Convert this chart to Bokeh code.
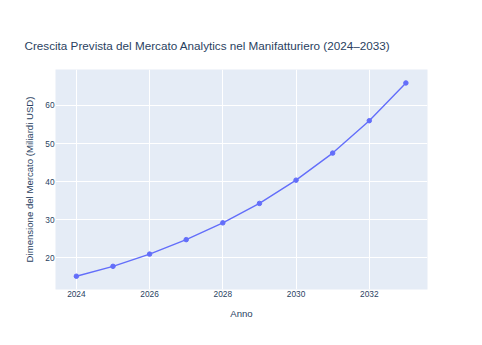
from bokeh.plotting import figure
from bokeh.models import FixedTicker, ColumnDataSource, Range1d
from bokeh.embed import file_html
from bokeh.resources import INLINE

anni = [2024, 2025, 2026, 2027, 2028, 2029, 2030, 2031, 2032, 2033]
valori = [15.2, 17.8, 21.0, 24.8, 29.2, 34.3, 40.4, 47.5, 56.0, 65.9]
x_ticks = [2024, 2026, 2028, 2030, 2032]
y_ticks = [20, 30, 40, 50, 60]
titolo = "Crescita Prevista del Mercato Analytics nel Manifatturiero (2024\u20132033)"

FONT = "Liberation Sans"
TXT = "#2a3f5f"

src = ColumnDataSource(dict(x=anni, y=valori))

p = figure(width=482, height=345, output_backend="svg", toolbar_location=None,
           x_range=Range1d(2023.43, 2033.59), y_range=Range1d(11.72, 69.43),
           min_border_left=55, min_border_right=55, min_border_top=69, min_border_bottom=56)
p.title.text = titolo
p.title.text_font = FONT
p.title.text_font_size = "11.7px"
p.title.text_font_style = "normal"
p.title.text_color = TXT
p.title.offset = -31
p.title.standoff = 36

p.background_fill_color = "#e5ecf6"
p.border_fill_color = "white"
p.outline_line_color = None
p.grid.grid_line_color = "white"
p.grid.grid_line_width = 1
p.xgrid.ticker = FixedTicker(ticks=x_ticks)
p.ygrid.ticker = FixedTicker(ticks=y_ticks)

p.line("x", "y", source=src, line_color="#636efa", line_width=1.4)
p.scatter("x", "y", source=src, size=4.5, color="#636efa")

for ax in (p.xaxis[0], p.yaxis[0]):
    ax.axis_line_color = None
    ax.major_tick_line_color = None
    ax.minor_tick_line_color = None
    ax.major_tick_out = 0
    ax.major_tick_in = 0
    ax.major_label_text_font = FONT
    ax.major_label_text_font_size = "8.3px"
    ax.major_label_text_color = TXT
    ax.axis_label_text_font = FONT
    ax.axis_label_text_font_size = "9.6px"
    ax.axis_label_text_font_style = "normal"
    ax.axis_label_text_color = TXT

p.xaxis.ticker = FixedTicker(ticks=x_ticks)
p.yaxis.ticker = FixedTicker(ticks=y_ticks)
p.xaxis.axis_label = "Anno"
p.yaxis.axis_label = "Dimensione del Mercato (Miliardi USD)"
p.xaxis.major_label_standoff = 1
p.yaxis.major_label_standoff = 1
p.xaxis.axis_label_standoff = 8
p.yaxis.axis_label_standoff = 7

open("out.html", "w").write(file_html(p, INLINE))
